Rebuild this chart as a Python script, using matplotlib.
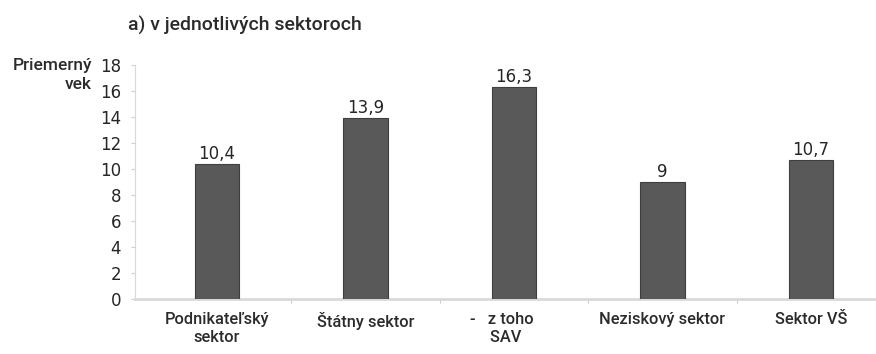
import matplotlib
matplotlib.use("Agg")
import matplotlib.pyplot as plt

# priemerny vek podla sektorov
sektory = ["Podnikateľský\nsektor", "Štátny sektor", "-   z toho      \nSAV    ",
           "Neziskový sektor", "Sektor VŠ"]
vek = [10.4, 13.9, 16.3, 9.0, 10.7]
popisy = ["10,4", "13,9", "16,3", "9", "10,7"]
y_ticks = [0, 2, 4, 6, 8, 10, 12, 14, 16, 18]

txt = dict(family=["Roboto", "DejaVu Sans"], weight="medium", color="#2b2b2b")

fig = plt.figure(figsize=(8.76, 3.54), dpi=100)
ax = fig.add_axes([0.154, 0.155, 0.846, 0.661])

x = range(len(vek))
ax.bar(x, vek, width=0.30, color="#595959", edgecolor="#3f3f3f", linewidth=0.8, zorder=3)

for i, (v, s) in enumerate(zip(vek, popisy)):
    ax.annotate(s, (i, v), xytext=(0, 1), textcoords="offset points",
                ha="center", va="bottom", fontsize=12, color="#262626",
                family="DejaVu Sans")

ax.set_xlim(-0.552, 4.438)
ax.set_ylim(0, 18)
ax.set_yticks(y_ticks)
ax.set_yticklabels([str(t) for t in y_ticks], fontsize=12, color="#262626")

ax.set_xticks(list(x))
ax.set_xticklabels(sektory, fontsize=11.8, linespacing=1.3, **txt)
ax.tick_params(axis="x", which="major", length=0, pad=9)
ax.set_xticks([0.5, 1.5, 2.5, 3.5], minor=True)
ax.tick_params(axis="x", which="minor", length=3, color="#bfbfbf", direction="out")
ax.tick_params(axis="y", length=3, color="#d0d0d0", pad=7)

for side in ["top", "right"]:
    ax.spines[side].set_visible(False)
ax.spines["left"].set_color("#d9d9d9")
ax.spines["left"].set_linewidth(0.8)
ax.spines["bottom"].set_color("#d9d9d9")
ax.spines["bottom"].set_linewidth(2)

fig.text(128 / 876, 1 - 25 / 354, "a) v jednotlivých sektoroch", fontsize=14,
         va="center", ha="left", **txt)
fig.text(92 / 876, 1 - 75 / 354, "Priemerný\nvek", fontsize=12.5,
         ha="right", va="center", linespacing=1.3, **txt)

fig.savefig("out.png", dpi=100)
